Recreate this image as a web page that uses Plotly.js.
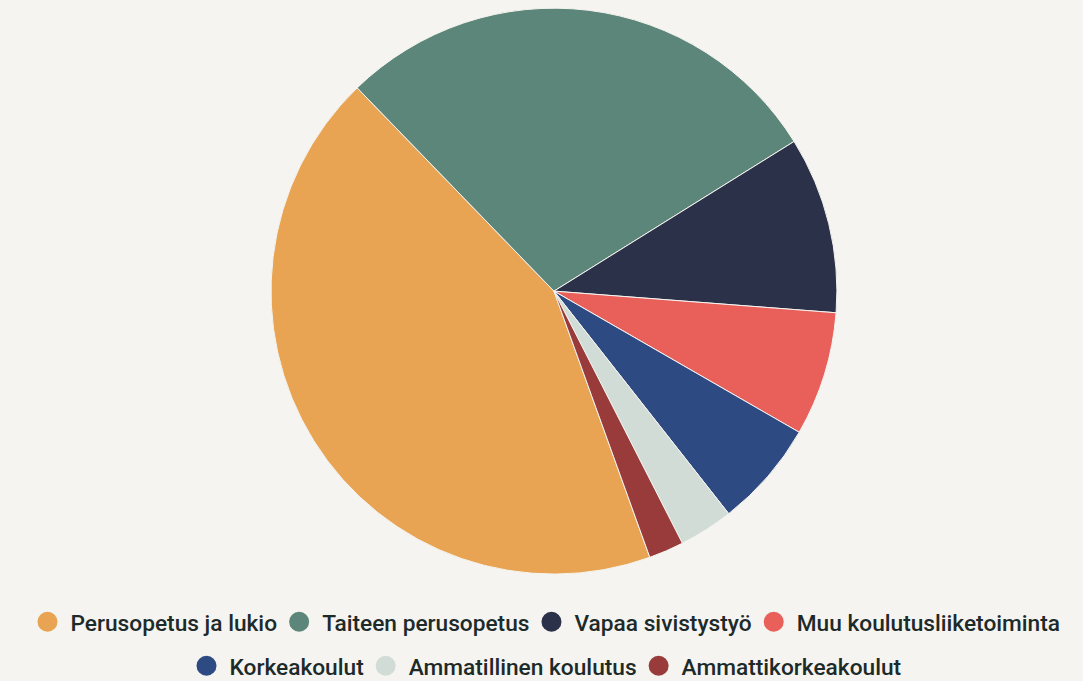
<!DOCTYPE html>
<html>
<head>
<meta charset="utf-8">
<script src="https://cdn.plot.ly/plotly-3.0.1.min.js"></script>
<style>html,body{margin:0;padding:0;background:#f5f4f0;}#chart{width:1083px;height:681px;}</style>
</head>
<body>
<div id="chart"></div>
<script>
const labels = ["Perusopetus ja lukio", "Taiteen perusopetus", "Vapaa sivistystyö", "Muu koulutusliiketoiminta", "Korkeakoulut", "Ammatillinen koulutus", "Ammattikorkeakoulut"];
const values = [43.3, 28.4, 10.1, 7.1, 6.1, 3.1, 2.0];
const colors = ["#e8a453", "#5b8679", "#2b3149", "#e9605b", "#2e4a82", "#d2dcd6", "#9a3b3b"];
const legendRow = ["legend", "legend", "legend", "legend", "legend2", "legend2", "legend2"];

const pie = {
  type: "pie",
  labels: labels,
  values: values,
  sort: false,
  direction: "clockwise",
  rotation: 160.2,
  textinfo: "none",
  hoverinfo: "label+percent",
  showlegend: false,
  marker: {colors: colors, line: {color: "#f5f4f0", width: 1}},
  domain: {x: [0.2115, 0.8115], y: [0.157, 0.988]}
};

const legendTraces = labels.map(function(lab, i){
  return {
    type: "scatter", mode: "markers", x: [null], y: [null],
    name: lab, legend: legendRow[i], showlegend: true, hoverinfo: "skip",
    marker: {color: colors[i], size: 18, symbol: "circle"}
  };
});

const legendFont = {family: "Roboto, sans-serif", size: 22.7, color: "#1d2a2a", weight: 500};

const layout = {
  width: 1083, height: 681,
  paper_bgcolor: "#f5f4f0", plot_bgcolor: "#f5f4f0",
  margin: {l: 0, r: 0, t: 0, b: 0, autoexpand: false},
  xaxis: {visible: false}, yaxis: {visible: false},
  showlegend: true,
  legend: {orientation: "h", x: 0.506, xanchor: "center", y: 0.0866, yanchor: "middle", font: legendFont, bgcolor: "rgba(0,0,0,0)"},
  legend2: {orientation: "h", x: 0.506, xanchor: "center", y: 0.022, yanchor: "middle", font: legendFont, bgcolor: "rgba(0,0,0,0)"}
};

Plotly.newPlot("chart", [pie].concat(legendTraces), layout, {displayModeBar: false, staticPlot: true}).then(function(gd){
  gd.querySelectorAll(".legendpoints path.scatterpts").forEach(function(p){
    p.setAttribute("d", "M10,0A10,10 0 1,1 0,-10A10,10 0 0,1 10,0Z");
    p.setAttribute("transform", "translate(17,0)");
  });
});
</script>
</body>
</html>
